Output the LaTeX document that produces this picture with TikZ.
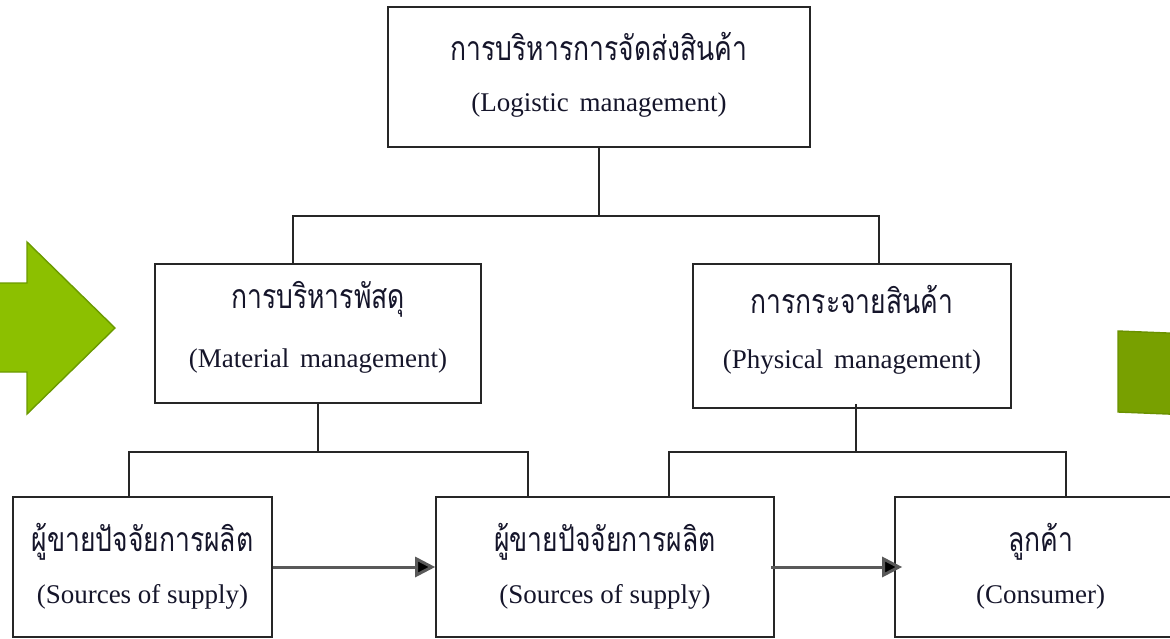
\documentclass[tikz,border=0pt]{standalone}
\usepackage{graphicx}
\usepackage{fontspec}
\setmainfont{Liberation Serif}
\newfontfamily\thaifont[Script=Thai]{Loma}
\usetikzlibrary{arrows.meta}
\definecolor{lgreen}{HTML}{8CC000}
\definecolor{lgreenb}{HTML}{6B9A00}
\definecolor{dgreen}{HTML}{78A000}
\definecolor{dgreenb}{HTML}{6A9100}
\definecolor{txt}{HTML}{15152A}
\newcommand{\thtext}[1]{\scalebox{1.02}[1.3]{\thaifont #1}}
\begin{document}
\begin{tikzpicture}[x=1pt,y=-1pt,
  box/.style={draw=black!85, line width=1.6pt, inner sep=0pt},
  th/.style={font=\fontsize{26}{30}\selectfont, text=txt, inner sep=0pt},
  en/.style={font=\fontsize{27}{31}\selectfont, text=txt, inner sep=0pt},
  conn/.style={draw=black!85, line width=1.6pt},
  arr/.style={draw=black!65, line width=3pt, -{Triangle[length=20pt,width=20pt,fill=black]}}]
\useasboundingbox (0,0) rectangle (1170,638);
\clip (0,0) rectangle (1170,638);
% green shapes
\fill[lgreen, draw=lgreenb, line width=1.4pt] (-3,283) -- (27,283) -- (27,242) -- (115,328) -- (27,414) -- (27,372) -- (-3,372) -- cycle;
\fill[dgreen, draw=dgreenb, line width=1.4pt] (1118,331) -- (1180,333.5) -- (1180,414.5) -- (1118,412) -- cycle;
% boxes
\node[box, minimum width=422pt, minimum height=140pt] (top) at (599,77) {};
\node[box, minimum width=326pt, minimum height=139pt] (ml) at (318,333.5) {};
\node[box, minimum width=318pt, minimum height=144pt] (mr) at (852,336) {};
\node[box, minimum width=259pt, minimum height=140pt] (bl) at (142.5,567) {};
\node[box, minimum width=338pt, minimum height=140pt] (bm) at (605,567) {};
\node[box, minimum width=305pt, minimum height=140pt] (br) at (1047.5,567) {};
% texts
\node[th] (topT) at ([yshift=31pt]top.center) {\thtext{การบริหารการจัดส่งสินค้า}};
\node[en] (topE) at ([yshift=-28pt]top.center) {(Logistic\hspace{0.4em}management)};
\node[th] (mlT) at ([yshift=34pt]ml.center) {\thtext{การบริหารพัสดุ}};
\node[en] (mlE) at ([yshift=-28pt]ml.center) {(Material\hspace{0.4em}management)};
\node[th] (mrT) at ([yshift=37pt]mr.center) {\thtext{การกระจายสินค้า}};
\node[en] (mrE) at ([yshift=-26pt]mr.center) {(Physical\hspace{0.4em}management)};
\node[th] (blT) at ([yshift=25pt]bl.center) {\thtext{ผู้ขายปัจจัยการผลิต}};
\node[en] (blE) at ([yshift=-30pt]bl.center) {(Sources of supply)};
\node[th] (bmT) at ([yshift=25pt]bm.center) {\thtext{ผู้ขายปัจจัยการผลิต}};
\node[en] (bmE) at ([yshift=-30pt]bm.center) {(Sources of supply)};
\node[th] (brT) at ([xshift=-7pt,yshift=25pt]br.center) {\thtext{ลูกค้า}};
\node[en] (brE) at ([xshift=-7pt,yshift=-30pt]br.center) {(Consumer)};
% connectors
\coordinate (jt) at (599,216);
\draw[conn] (top.south) -- (jt);
\draw[conn] (jt) -| ([xshift=139pt]ml.north west);
\draw[conn] (jt) -| ([xshift=187pt]mr.north west);
\coordinate (jl) at (318,452);
\draw[conn] (ml.south) -- (jl);
\draw[conn] (jl) -| ([xshift=117pt]bl.north west);
\draw[conn] (jl) -| ([xshift=93pt]bm.north west);
\coordinate (jr) at (856,452);
\draw[conn] ([xshift=4pt,yshift=5pt]mr.south) -- (jr);
\draw[conn] (jr) -| ([xshift=-106pt]bm.north east);
\draw[conn] (jr) -| ([xshift=172pt]br.north west);
% arrows
\draw[arr] (bl.east) -- (bm.west);
\draw[arr] ([xshift=-4pt]bm.east) -- ([xshift=8pt]br.west);
\end{tikzpicture}
\end{document}
